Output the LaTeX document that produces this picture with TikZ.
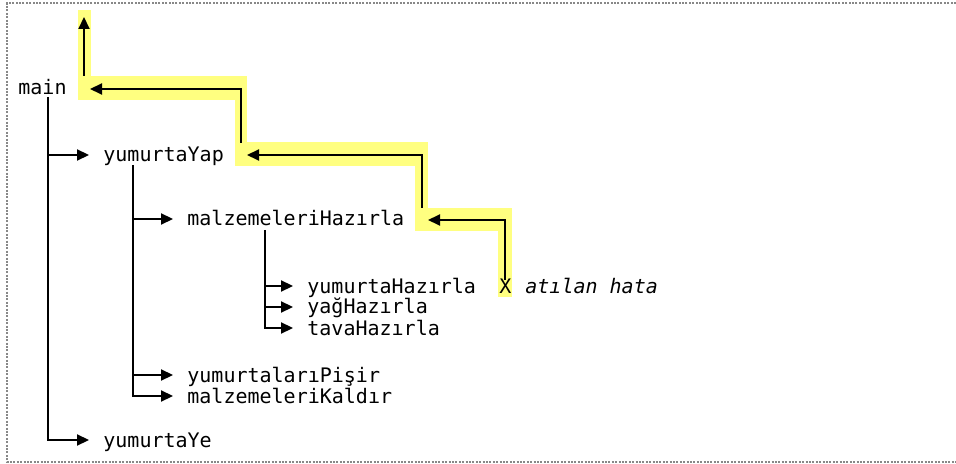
\documentclass[tikz,border=0pt]{standalone}
\usepackage{fontspec}
\setmainfont{DejaVu Sans Mono}
\usetikzlibrary{arrows.meta}
\definecolor{hl}{RGB}{255,255,128}
\definecolor{framegray}{RGB}{136,136,136}
\begin{document}
\begin{tikzpicture}[x=0.5pt,y=-0.5pt,
  lbl/.style={anchor=base west,inner sep=0pt,text height=8pt,text depth=1pt,font=\fontsize{10}{12}\selectfont},
  tree/.style={line width=1.1pt,black},
  arr/.style={tree,-{Triangle[length=6pt,width=5.5pt]},shorten >=7pt},
  harr/.style={line width=1pt,black,-{Triangle[length=6pt,width=5.5pt]}},
  frame/.style={framegray,line width=1pt,dash pattern=on 1pt off 0.7pt}]
\useasboundingbox (0,0) rectangle (956,464);
\draw[frame] (956,3) -- (7,3) -- (7,462) -- (956,462);
% highlight band
\fill[hl] (78,10) rectangle (91,100);
\fill[hl] (78,76) rectangle (247,100);
\fill[hl] (235,76) rectangle (247,166);
\fill[hl] (235,142) rectangle (428,166);
\fill[hl] (415,142) rectangle (428,231);
\fill[hl] (415,208) rectangle (512,231);
\fill[hl] (498,208) rectangle (512,297);
% labels
\node[lbl] (main) at (18,95) {main};
\node[lbl] (yap) at (103,162) {yumurtaYap};
\node[lbl] (hazirla) at (187,226) {malzemeleriHazırla};
\node[lbl] (yhaz) at (307,293) {yumurtaHazırla};
\node[lbl] (yag) at (307,314) {yağHazırla};
\node[lbl] (tava) at (307,335) {tavaHazırla};
\node[lbl] (pisir) at (187,382) {yumurtalarıPişir};
\node[lbl] (kaldir) at (187,403) {malzemeleriKaldır};
\node[lbl] (ye) at (103,447) {yumurtaYe};
\node[lbl] (X) at (499,293) {X};
\node[lbl] (err) at (525,293) {\itshape atılan hata};
% tree connectors
\coordinate (t1) at (48,97);
\coordinate (t2) at (133,165);
\coordinate (t3) at (265,230);
\draw[arr] (t1) |- (ye.west);
\draw[arr] (t1 |- yap.west) -- (yap.west);
\draw[arr] (t2) |- (kaldir.west);
\draw[arr] (t2 |- hazirla.west) -- (hazirla.west);
\draw[arr] (t2 |- pisir.west) -- (pisir.west);
\draw[arr] (t3) |- (tava.west);
\draw[arr] (t3 |- yhaz.west) -- (yhaz.west);
\draw[arr] (t3 |- yag.west) -- (yag.west);
% propagation arrows
\coordinate (e1) at (428,220);
\coordinate (s2) at (422,208);
\coordinate (e2) at (247,155);
\coordinate (s3) at (241,143);
\coordinate (e3) at (90,89);
\coordinate (s4) at (84,76);
\coordinate (e4) at (84,17);
\draw[harr] ([yshift=-1.5pt]X.north) |- (e1);
\draw[harr] (s2) |- (e2);
\draw[harr] (s3) |- (e3);
\draw[harr] (s4) -- (e4);
\end{tikzpicture}
\end{document}
